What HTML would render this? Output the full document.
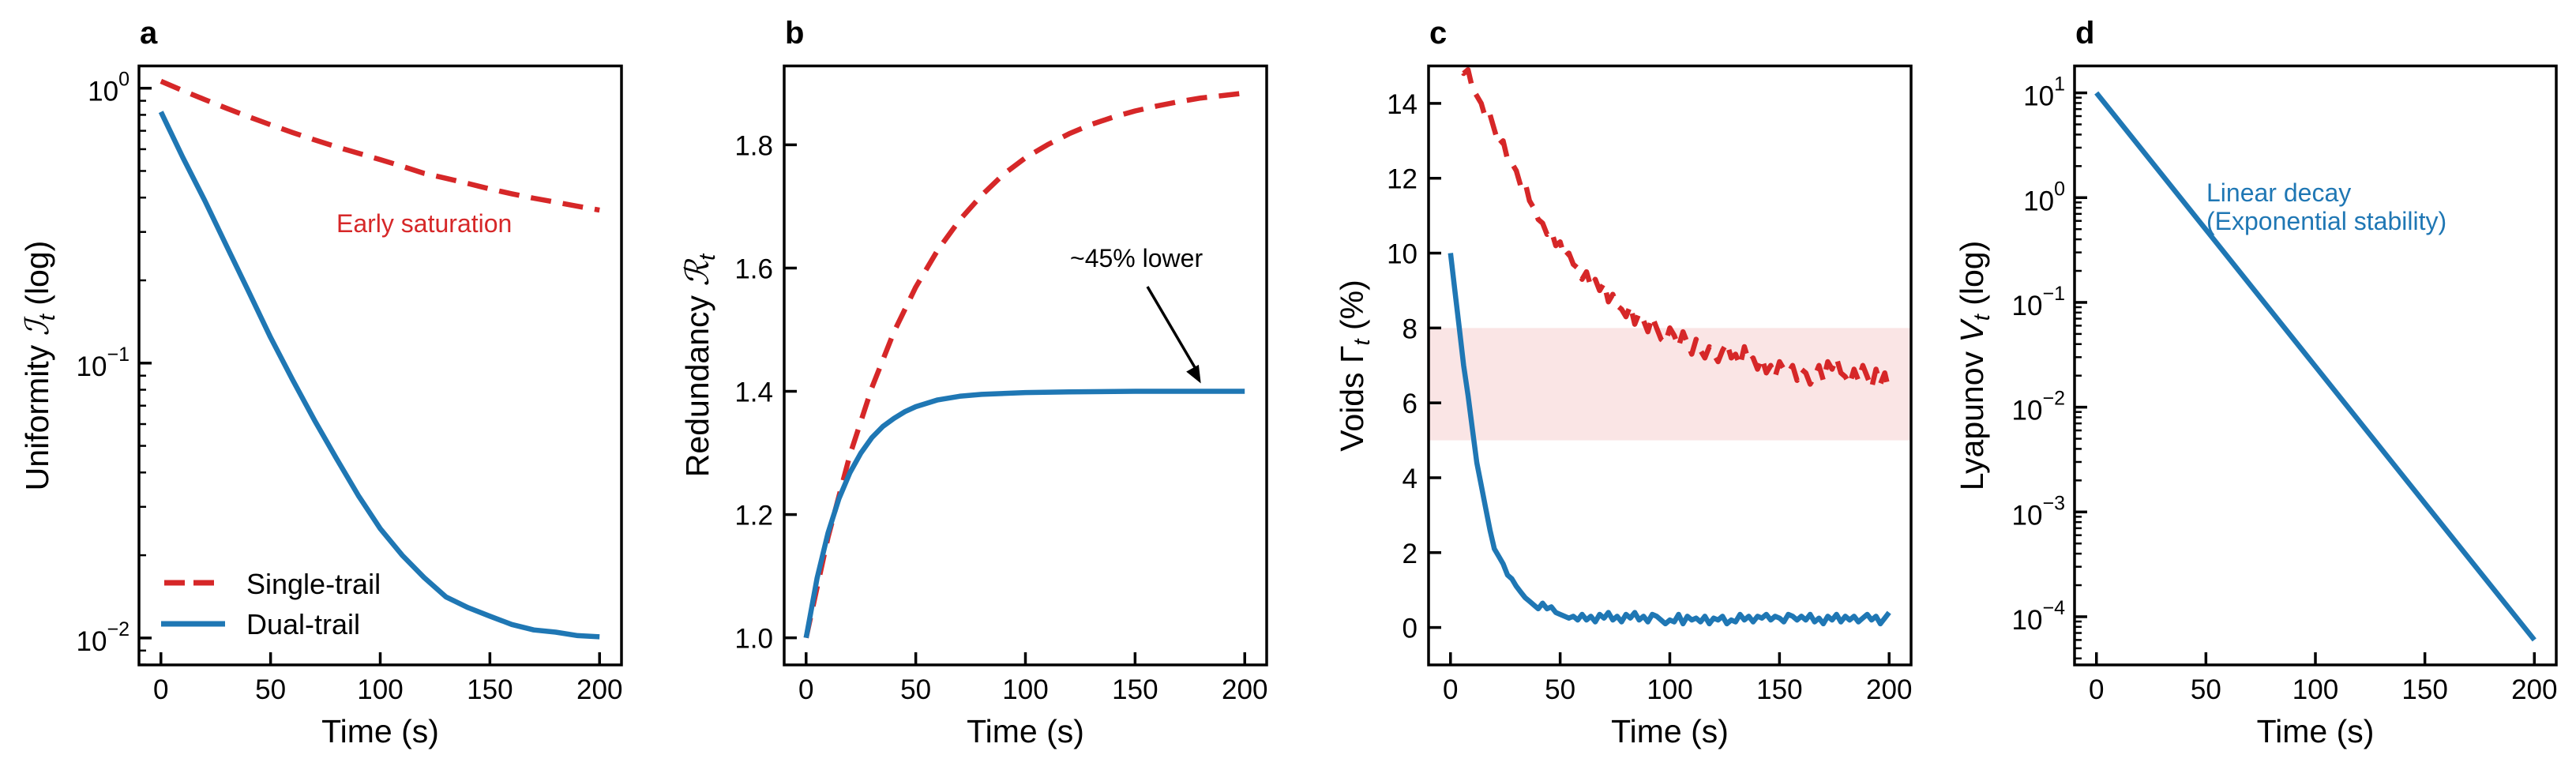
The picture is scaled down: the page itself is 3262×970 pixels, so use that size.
<!DOCTYPE html>
<html><head><meta charset="utf-8"><style>
html,body{margin:0;padding:0;background:#fff;}
svg{display:block;font-family:"Liberation Sans",Arial,sans-serif;}
</style></head><body>
<svg id="fig" width="3262" height="970" viewBox="0 0 3262 970" xmlns="http://www.w3.org/2000/svg"></svg>
<script>
// ---- data ----
const timeA = [0,10,20,30,40,50,60,70,80,90,100,110,120,130,140,150,160,170,180,190,200];
const singleUniformity = [1.06,0.98,0.909,0.845,0.787,0.736,0.69,0.649,0.612,0.58,0.55,0.52,0.49,0.47,0.45,0.43,0.413,0.398,0.385,0.372,0.36];
const dualUniformity = [0.82,0.56,0.39,0.266,0.182,0.124,0.087,0.062,0.045,0.033,0.025,0.02,0.0166,0.0141,0.0129,0.012,0.0112,0.0107,0.0105,0.0102,0.0101];
const timeB = [0,10,20,30,40,50,60,70,80,90,100,110,120,130,140,150,160,170,180,190,200];
const singleRedundancy = [1.0,1.163,1.297,1.406,1.496,1.569,1.629,1.678,1.718,1.752,1.779,1.8,1.818,1.833,1.845,1.855,1.863,1.87,1.876,1.88,1.884];
const timeB2 = [0,5,10,15,20,25,30,35,40,45,50,60,70,80,100,120,150,200];
const dualRedundancy = [1.0,1.097,1.17,1.226,1.268,1.3,1.325,1.343,1.356,1.367,1.375,1.386,1.392,1.395,1.398,1.399,1.4,1.4];
const timeC = Array.from({length:101},(_, i)=>i*2);
const singleVoids = [15.6,15.2,15.0,14.8,14.9,14.4,14.2,14.0,13.6,13.7,13.3,
12.9,13.0,12.5,12.4,12.2,11.8,11.9,11.4,11.2,10.9,
10.8,10.5,10.6,10.2,10.3,9.9,10.0,9.7,9.6,9.3,
9.5,9.1,9.3,9.0,9.2,8.7,8.9,8.6,8.5,8.3,
8.6,8.1,8.4,8.2,7.9,8.3,8.0,7.7,7.6,8.0,
7.8,7.5,7.9,7.6,7.3,7.7,7.4,7.2,7.5,7.3,
7.1,7.4,7.6,7.2,7.3,7.0,7.5,7.1,7.2,6.9,
7.2,6.8,7.0,6.7,7.1,6.9,6.8,7.0,6.6,6.9,
6.8,6.5,6.7,7.0,6.6,7.1,6.9,7.2,6.8,6.7,
6.5,6.9,6.6,7.0,6.7,6.4,6.9,6.5,6.8,6.3];
const dualVoids = [10.0,9.0,8.0,7.0,6.2,5.3,4.4,3.8,3.2,2.6,2.1,
1.9,1.7,1.4,1.3,1.1,0.95,0.8,0.7,0.6,0.5,
0.65,0.5,0.55,0.4,0.35,0.3,0.25,0.3,0.2,0.35,
0.2,0.3,0.15,0.35,0.25,0.4,0.2,0.3,0.15,0.35,
0.25,0.4,0.2,0.3,0.15,0.35,0.3,0.2,0.1,0.2,
0.15,0.35,0.1,0.3,0.2,0.25,0.15,0.3,0.1,0.25,
0.2,0.3,0.1,0.2,0.15,0.35,0.2,0.3,0.15,0.3,
0.25,0.35,0.2,0.3,0.25,0.15,0.35,0.3,0.2,0.3,
0.2,0.35,0.15,0.25,0.1,0.3,0.2,0.35,0.15,0.3,
0.2,0.3,0.15,0.25,0.35,0.2,0.3,0.1,0.25,0.4];
const timeD = [0,50,100,150,200];
const lyapunov = [10,0.495,0.0245,0.00121,0.00006];
const xTicks = [0,50,100,150,200];
const bTicks = [1.0,1.2,1.4,1.6,1.8];
const bTickLabels = ["1.0","1.2","1.4","1.6","1.8"];
const cTicks = [0,2,4,6,8,10,12,14];
const aDecades = [-2,-1,0];
const dDecades = [-4,-3,-2,-1,0,1];
const bandRange = [5,8];

const NS="http://www.w3.org/2000/svg";
const svg=document.getElementById('fig');
function el(tag,attrs,parent){const e=document.createElementNS(NS,tag);for(const k in attrs)e.setAttribute(k,attrs[k]);(parent||svg).appendChild(e);return e;}
const RED="#d62728", BLUE="#1f77b4";
const TOP=83.5, BOT=842, YMID=463;

function makePanel(id,L,R,yMin,yMax,log){
  const T=TOP,B=BOT;
  const xs=v=>L+(v+10)/220*(R-L);
  const ys=v=>{const u=log?Math.log10(v):v;return B-(u-yMin)/(yMax-yMin)*(B-T);};
  const g=el('g',{});
  
  
  const cp=el('clipPath',{id:'clip-'+id},g);
  el('rect',{x:L,y:T,width:R-L,height:B-T},cp);
  const plot=el('g',{'clip-path':'url(#clip-'+id+')'},g);
  
  
  return {L,R,T,B,xs,ys,g,plot};
}
function line(p,xsArr,ysArr,color,dashed,name){
  const d=xsArr.map((t,i)=>(i?'L':'M')+p.xs(t).toFixed(1)+','+p.ys(ysArr[i]).toFixed(1)).join('');
  const a={d:d,fill:'none',stroke:color,'stroke-width':6.5,'stroke-linejoin':'round'};
  if(dashed){a['stroke-dasharray']='26 15';}
  const e=el('path',a,p.plot);
  
  
  return e;
}
function frame(p,letter){
  const r=el('rect',{x:p.L,y:p.T,width:p.R-p.L,height:p.B-p.T,fill:'none',stroke:'#000','stroke-width':3.5},p.g);
  
  
  const t=el('text',{x:p.L+1,y:55,'font-size':40,'font-weight':'bold'},p.g);
  t.textContent=letter;
  
  
  xTicks.forEach(v=>{
    const x=p.xs(v);
    el('line',{x1:x,x2:x,y1:p.B,y2:p.B-16,stroke:'#000','stroke-width':3.5},p.g);
    const tl=el('text',{x:x,y:885,'font-size':35,'text-anchor':'middle'},p.g);
    tl.textContent=v;
    
    
  });
  const xl=el('text',{x:(p.L+p.R)/2,y:940,'font-size':41,'text-anchor':'middle'},p.g);
  xl.textContent='Time (s)';
  
  
}
function linYTicks(p,ticks,labels){
  ticks.forEach((v,i)=>{
    const y=p.ys(v);
    el('line',{x1:p.L,x2:p.L+16,y1:y,y2:y,stroke:'#000','stroke-width':3.5},p.g);
    const tl=el('text',{x:p.L-14,y:y+13,'font-size':35,'text-anchor':'end'},p.g);
    tl.textContent=labels[i];
    
    
  });
}
function logYTicks(p,decades,yMin,yMax){
  decades.forEach(dd=>{
    const y=p.ys(Math.pow(10,dd));
    el('line',{x1:p.L,x2:p.L+16,y1:y,y2:y,stroke:'#000','stroke-width':3.5},p.g);
    const tl=el('text',{x:p.L-12,y:y+16,'font-size':35,'text-anchor':'end'},p.g);
    
    
    const a=el('tspan',{},tl);a.textContent='10';
    const b=el('tspan',{'font-size':25,dy:-19},tl);b.textContent=(dd<0?'\u2212':'')+Math.abs(dd);
  });
  for(let dd=Math.floor(yMin);dd<=Math.ceil(yMax);dd++){
    for(let m=2;m<=9;m++){
      const lv=dd+Math.log10(m);
      if(lv<yMin||lv>yMax)continue;
      const y=p.ys(Math.pow(10,lv));
      el('line',{x1:p.L,x2:p.L+9,y1:y,y2:y,stroke:'#000','stroke-width':2.5},p.g);
    }
  }
}
function yTitle(p,x,parts){
  const t=el('text',{x:x,y:YMID,'font-size':41,'text-anchor':'middle',transform:'rotate(-90 '+x+' '+YMID+')'},p.g);
  
  
  parts.forEach(pt=>{const s=el('tspan',pt.a||{},t);s.textContent=pt.t;});
}

// Panel a
const pa=makePanel('a',176,787,-2.098,0.081,true);
line(pa,timeA,singleUniformity,RED,true,'single-trail-line');
line(pa,timeA,dualUniformity,BLUE,false,'dual-trail-line');
frame(pa,'a');
logYTicks(pa,aDecades,-2.098,0.081);
yTitle(pa,61,[{t:'Uniformity '},{t:'\u2110','a':{'font-style':'italic','font-family':'"DejaVu Serif",serif'}},{t:'t','a':{'font-style':'italic','font-size':29,dy:8}},{t:' (log)','a':{dy:-8}}]);
{const t=el('text',{x:426,y:294,'font-size':32,fill:RED},pa.g);t.textContent='Early saturation';
}
{const lg=el('g',{},pa.g);
const l1=el('line',{x1:208,x2:282,y1:738,y2:738,stroke:RED,'stroke-width':7,'stroke-dasharray':'26 11'},lg);

const t1=el('text',{x:312,y:752,'font-size':36},lg);t1.textContent='Single-trail';

const l2=el('line',{x1:204,x2:285,y1:790,y2:790,stroke:BLUE,'stroke-width':7},lg);

const t2=el('text',{x:312,y:803,'font-size':36},lg);t2.textContent='Dual-trail';
}

// Panel b
const pb=makePanel('b',993,1604,0.956,1.928,false);
line(pb,timeB,singleRedundancy,RED,true,'single-trail-line');
line(pb,timeB2,dualRedundancy,BLUE,false,'dual-trail-line');
frame(pb,'b');
linYTicks(pb,bTicks,bTickLabels);
yTitle(pb,897,[{t:'Redundancy '},{t:'\u211B','a':{'font-style':'italic','font-family':'"DejaVu Serif",serif'}},{t:'t','a':{'font-style':'italic','font-size':29,dy:8}}]);
{const t=el('text',{x:1355,y:338,'font-size':32},pb.g);t.textContent='~45% lower';

const ax=pb.xs(180),ay=pb.ys(1.4)-10;
const ar=el('line',{x1:1453,y1:363,x2:ax-4,y2:ay-14,stroke:'#000','stroke-width':3.5},pb.g);

const ang=Math.atan2(ay-363,ax-1453);const hl=22,hw=9;
const bx=ax-hl*Math.cos(ang),by=ay-hl*Math.sin(ang);
el('polygon',{points:`${ax},${ay} ${bx+hw*Math.sin(ang)},${by-hw*Math.cos(ang)} ${bx-hw*Math.sin(ang)},${by+hw*Math.cos(ang)}`,fill:'#000'},pb.g);}

// Panel c
const pc=makePanel('c',1809,2420,-1,15,false);
{const b=el('rect',{x:pc.L,y:pc.ys(bandRange[1]),width:pc.R-pc.L,height:pc.ys(bandRange[0])-pc.ys(bandRange[1]),fill:'#fae5e5'},pc.plot);
}
line(pc,timeC,singleVoids,RED,true,'single-trail-line');
line(pc,timeC,dualVoids,BLUE,false,'dual-trail-line');
frame(pc,'c');
linYTicks(pc,cTicks,cTicks.map(String));
yTitle(pc,1726,[{t:'Voids \u0393'},{t:'t','a':{'font-style':'italic','font-size':29,dy:8}},{t:' (%)','a':{dy:-8}}]);

// Panel d
const pd=makePanel('d',2627,3237,-4.46,1.257,true);
line(pd,timeD,lyapunov,BLUE,false,'lyapunov-line');
frame(pd,'d');
logYTicks(pd,dDecades,-4.46,1.257);
yTitle(pd,2511,[{t:'Lyapunov '},{t:'V','a':{'font-style':'italic'}},{t:'t','a':{'font-style':'italic','font-size':29,dy:8}},{t:' (log)','a':{dy:-8}}]);
{const t1=el('text',{x:2794,y:255,'font-size':32,fill:BLUE},pd.g);t1.textContent='Linear decay';

const t2=el('text',{x:2794,y:291,'font-size':32,fill:BLUE},pd.g);t2.textContent='(Exponential stability)';
}
</script>
</body></html>
